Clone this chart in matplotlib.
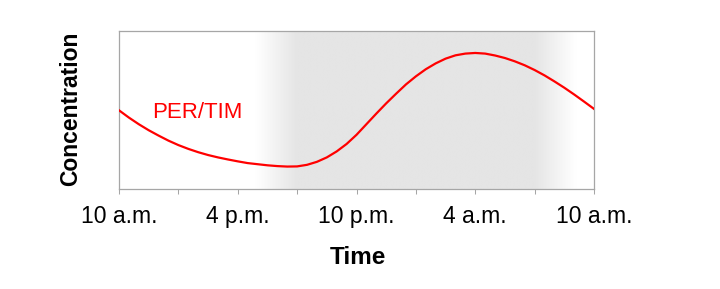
import numpy as np
import matplotlib
matplotlib.use("Agg")
import matplotlib.pyplot as plt
from matplotlib.colors import LinearSegmentedColormap

# ---- data ----
hours = [i * 0.5 for i in range(49)]
per_tim = [0.498, 0.452, 0.410, 0.372, 0.338, 0.306, 0.278, 0.254, 0.233, 0.215,
           0.200, 0.187, 0.175, 0.164, 0.157, 0.150, 0.145, 0.142, 0.143, 0.153,
           0.172, 0.200, 0.238, 0.285, 0.343, 0.410, 0.477, 0.542, 0.603, 0.662,
           0.713, 0.758, 0.795, 0.825, 0.846, 0.857, 0.861, 0.857, 0.845, 0.829,
           0.808, 0.783, 0.753, 0.719, 0.681, 0.641, 0.598, 0.553, 0.507]
tick_hours = [0, 6, 12, 18, 24]
tick_labels = ["10 a.m.", "4 p.m.", "10 p.m.", "4 a.m.", "10 a.m."]
minor_hours = [3, 9, 15, 21]
dusk = [6.9, 9.0]     # fade into darkness
dawn = [21.0, 23.1]   # fade out of darkness

series_label = "PER/TIM"

fig = plt.figure(figsize=(7.2, 2.89), dpi=100)
ax = fig.add_axes([119/720, 1 - 189/289, 475/720, 158/289])

# night shading gradient
xs = np.linspace(0, 24, 1200)
shade = np.clip(np.minimum((xs - dusk[0]) / (dusk[1] - dusk[0]),
                           (dawn[1] - xs) / (dawn[1] - dawn[0])), 0, 1)
cmap = LinearSegmentedColormap.from_list("night", ["#ffffff", "#e5e5e5"])
ax.imshow(shade[np.newaxis, :], extent=[0, 24, 0, 1], aspect="auto",
          cmap=cmap, vmin=0, vmax=1, zorder=0, interpolation="bilinear")

ax.plot(hours, per_tim, color="#ff0000", lw=1.6, zorder=3,
        solid_joinstyle="round")
ax.text(1.68, 0.451, series_label, color="#ff0000", fontsize=16,
        family="Liberation Sans", va="baseline", ha="left")

ax.set_xlim(0, 24)
ax.set_ylim(0, 1)
ax.set_yticks([])
ax.set_xticks(tick_hours)
ax.set_xticklabels(tick_labels, family="Liberation Sans", fontsize=16.5)
ax.set_xticks(minor_hours, minor=True)
ax.tick_params(axis="x", which="both", direction="out", length=3.6,
               width=0.75, color="#a6a6a6", pad=8)
for s in ax.spines.values():
    s.set_color("#a6a6a6")
    s.set_linewidth(0.9)

fig.text(358/720, 1 - 264.3/289, "Time", ha="center", va="baseline",
         fontsize=17.5, fontweight="bold", family="Liberation Sans")
fig.text(71/720, 1 - 108.5/289, "Concentration", ha="center", va="center",
         rotation=90, fontsize=16.5, fontweight="bold", family="Liberation Sans")

fig.savefig("out.png", dpi=100)
